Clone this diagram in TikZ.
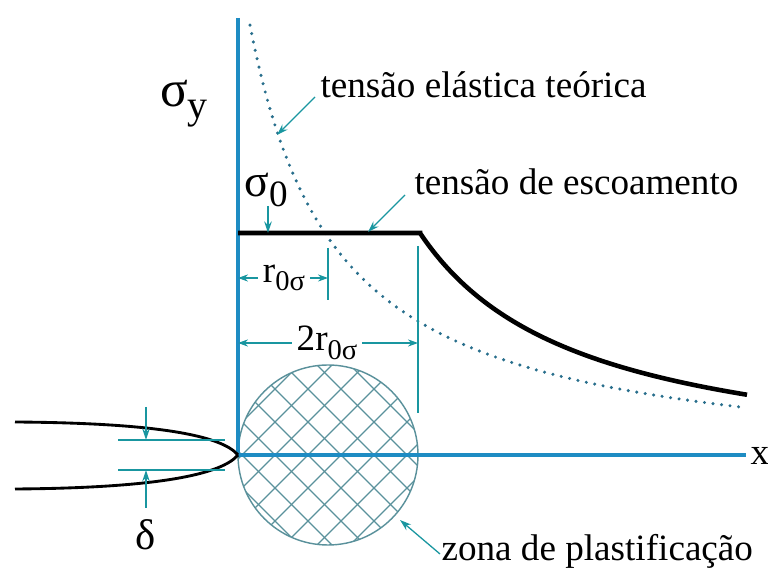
\documentclass[tikz,border=0pt]{standalone}
\usepackage{fontspec}
\setmainfont{Liberation Serif}
\usetikzlibrary{arrows.meta}
\definecolor{axisblue}{RGB}{30,140,195}
\definecolor{dimteal}{RGB}{25,150,160}
\definecolor{hatchc}{RGB}{90,145,155}
\definecolor{dotc}{RGB}{40,110,140}
\begin{document}
\begin{tikzpicture}[x=0.35pt,y=-0.35pt,
  lbl/.style={font=\fontsize{13}{15}\selectfont, inner sep=0pt},
  axisline/.style={axisblue, line width=1.1pt},
  dim/.style={dimteal, line width=0.4pt},
  dimarrow/.style={dim, -{Stealth[length=3.5pt,width=2.5pt]}},
  callout/.style={dimteal, line width=0.45pt, -{Stealth[length=4pt,width=2.6pt]}},
  crack/.style={black, line width=1pt},
  hatchline/.style={hatchc, line width=0.4pt}
]
\useasboundingbox (0,0) rectangle (768,573);

% plastic zone (cross-hatched circle)
\begin{scope}
  \clip (328,455) circle[radius=90];
  \foreach \k in {-6,...,6} {
    \draw[hatchline] ({308+33*\k-110},345) -- ({308+33*\k+110},565);
    \draw[hatchline] ({308+33*\k-110},565) -- ({308+33*\k+110},345);
  }
\end{scope}
\draw[hatchc, line width=0.5pt] (328,455) circle[radius=90];

% axes
\coordinate (O) at (238,455);
\coordinate (ytop) at (238,18);
\coordinate (xend) at (746,455);
\draw[axisline] (ytop) -- (O) -- (xend);
\node[lbl] (xl) at (760,456) {x};
\node[lbl] (sy) at (184,104) {\fontsize{18}{20}\selectfont σ\raisebox{-0.5ex}{\fontsize{14}{14}\selectfont y}};

% elastic stress (dotted)
\draw[dotc, line width=1.2pt, dash pattern=on 0pt off 3pt, line cap=round]
  plot[domain=250:745, samples=120, smooth] (\x,{475-100*(392.7/(\x-162.7))});

% yield stress curve
\draw[black, line width=1.6pt, line join=miter] (238,233) -- (420,233)
  -- plot[domain=420:747, samples=80, smooth] (\x,{475-100*(392.7/(\x-257.7))});

% extension lines
\draw[dim] (328,248) -- (328,300);
\draw[dim] (418,246) -- (418,413);

% r0sigma dimension
\node[lbl, fill=white, inner sep=1.5pt] (r0) at (284,278) {r\raisebox{-0.5ex}{\fontsize{10}{10}\selectfont 0σ}};
\coordinate (r0l) at (238,278);
\coordinate (r0r) at (328,278);
\draw[dimarrow] (r0) -- (r0l);
\draw[dimarrow] (r0) -- (r0r);

% 2r0sigma dimension
\node[lbl, fill=white, inner sep=1.5pt] (r2) at (327,343) {2r\raisebox{-0.5ex}{\fontsize{10}{10}\selectfont 0σ}};
\coordinate (r2l) at (238,343);
\coordinate (r2r) at (418,343);
\draw[dimarrow] (r2) -- (r2l);
\draw[dimarrow] (r2) -- (r2r);

% sigma0
\node[lbl] (s0) at (266,190) {\fontsize{16}{18}\selectfont σ\raisebox{-0.5ex}{\fontsize{13}{13}\selectfont 0}};
\coordinate (s0a) at (268,206);
\coordinate (s0b) at (268,233);
\draw[callout] (s0a) -- (s0b);

% callouts
\node[lbl, anchor=west] (te) at (320,85) {tensão elástica teórica};
\coordinate (tea) at (315,97);
\coordinate (teb) at (277,135);
\draw[callout] (tea) -- (teb);

\node[lbl, anchor=west] (ty) at (414,182) {tensão de escoamento};
\coordinate (tya) at (405,195);
\coordinate (tyb) at (368,232);
\draw[callout] (tya) -- (tyb);

\node[lbl, anchor=west] (zp) at (441,551) {zona de plastificação};
\coordinate (zpa) at (440,554);
\coordinate (zpb) at (400,520);
\draw[callout] (zpa) -- (zpb);

% crack
\draw[crack] (15,422) .. controls (160,423) and (222,436) .. (O);
\draw[crack] (15,489) .. controls (160,488) and (222,474) .. (O);

% delta
\draw[dim] (118,440) -- (225,440);
\draw[dim] (118,470) -- (225,470);
\coordinate (d1a) at (146,407);
\coordinate (d1b) at (146,440);
\coordinate (d2a) at (146,508);
\coordinate (d2b) at (146,470);
\draw[callout] (d1a) -- (d1b);
\draw[callout] (d2a) -- (d2b);
\node[lbl] (dl) at (146,535) {\fontsize{15}{17}\selectfont δ};
\end{tikzpicture}
\end{document}
